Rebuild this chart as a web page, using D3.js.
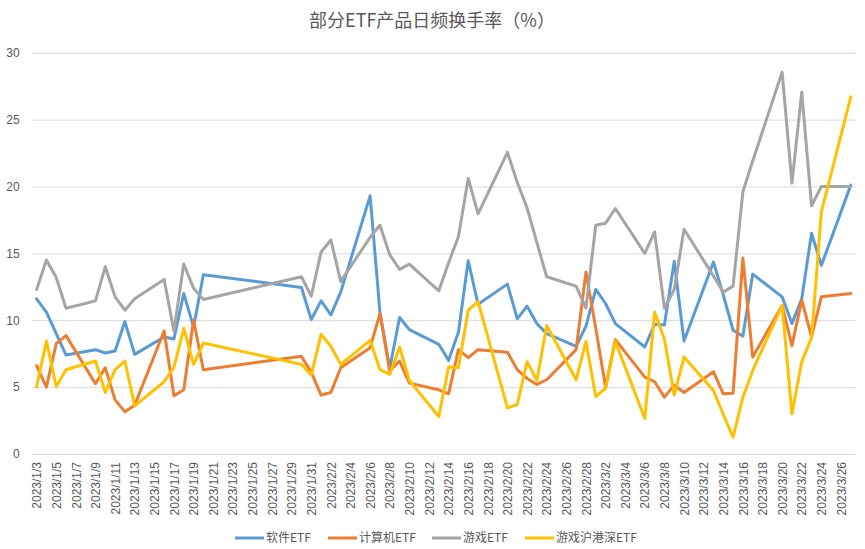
<!DOCTYPE html>
<html>
<head>
<meta charset="utf-8">
<script src="https://cdn.jsdelivr.net/npm/d3@7"></script>
<style>
  html, body { margin: 0; padding: 0; background: #fff; }
  svg { display: block; }
</style>
</head>
<body>
<div id="chart"></div>
<script>
const title = "部分ETF产品日频换手率（%）";

const dates = [
  "2023-01-03","2023-01-04","2023-01-05","2023-01-06","2023-01-09","2023-01-10","2023-01-11","2023-01-12","2023-01-13",
  "2023-01-16","2023-01-17","2023-01-18","2023-01-19","2023-01-20","2023-01-30","2023-01-31","2023-02-01","2023-02-02",
  "2023-02-03","2023-02-06","2023-02-07","2023-02-08","2023-02-09","2023-02-10","2023-02-13","2023-02-14","2023-02-15",
  "2023-02-16","2023-02-17","2023-02-20","2023-02-21","2023-02-22","2023-02-23","2023-02-24","2023-02-27","2023-02-28",
  "2023-03-01","2023-03-02","2023-03-03","2023-03-06","2023-03-07","2023-03-08","2023-03-09","2023-03-10","2023-03-13",
  "2023-03-14","2023-03-15","2023-03-16","2023-03-17","2023-03-20","2023-03-21","2023-03-22","2023-03-23","2023-03-24",
  "2023-03-27"
];

const seriesNames = ["软件ETF", "计算机ETF", "游戏ETF", "游戏沪港深ETF"];

const software = [
  11.6,10.6,9.0,7.4,7.8,7.55,7.7,9.9,7.45,
  8.75,8.6,12.0,9.5,13.4,12.45,10.05,11.45,10.4,
  12.1,19.3,10.6,6.4,10.2,9.3,8.2,7.0,9.1,
  14.45,11.2,12.7,10.1,11.05,9.75,9.0,8.05,9.55,
  12.3,11.25,9.75,8.0,9.7,9.65,14.4,8.45,14.35,
  11.9,9.25,8.8,13.45,11.75,9.75,11.6,16.5,14.1,
  20.1
];

const computer = [
  6.6,5.0,8.25,8.85,5.25,6.45,4.05,3.15,3.65,
  9.2,4.35,4.8,10.0,6.3,7.3,6.1,4.4,4.6,
  6.45,7.95,10.5,6.2,6.95,5.3,4.8,4.5,7.8,
  7.2,7.8,7.6,6.3,5.65,5.2,5.55,7.8,13.6,
  9.4,5.0,8.55,5.75,5.4,4.25,5.15,4.6,6.15,
  4.5,4.55,14.65,7.25,11.1,8.1,11.5,8.75,11.75,
  12.0
];

const game = [
  12.3,14.5,13.2,10.9,11.45,14.0,11.75,10.75,11.6,
  13.05,9.2,14.2,12.4,11.55,13.25,11.8,15.1,16.0,
  12.9,16.2,17.1,14.9,13.8,14.2,12.2,14.3,16.25,
  20.6,17.95,22.55,20.3,18.4,15.8,13.25,12.55,10.9,
  17.1,17.25,18.35,15.0,16.6,10.9,12.3,16.8,13.3,
  12.1,12.55,19.6,21.9,28.55,20.25,27.05,18.55,20.0,
  20.0
];

const gameHK = [
  5.05,8.45,5.05,6.3,6.95,4.6,6.3,6.95,3.6,
  5.4,6.5,9.4,6.7,8.3,6.7,5.9,8.95,8.05,
  6.7,8.5,6.3,5.95,8.0,5.5,2.8,6.5,6.45,
  10.75,11.4,3.45,3.7,6.9,5.5,9.6,5.55,8.4,
  4.3,4.9,8.4,2.65,10.6,8.6,4.4,7.25,4.75,
  2.95,1.25,4.25,6.25,11.1,3.0,6.9,8.7,18.1,
  26.7
];

const yTicks = [0, 5, 10, 15, 20, 25, 30];

const xTickLabels = [
  "2023/1/3","2023/1/5","2023/1/7","2023/1/9","2023/1/11","2023/1/13","2023/1/15","2023/1/17","2023/1/19",
  "2023/1/21","2023/1/23","2023/1/25","2023/1/27","2023/1/29","2023/1/31","2023/2/2","2023/2/4","2023/2/6",
  "2023/2/8","2023/2/10","2023/2/12","2023/2/14","2023/2/16","2023/2/18","2023/2/20","2023/2/22","2023/2/24",
  "2023/2/26","2023/2/28","2023/3/2","2023/3/4","2023/3/6","2023/3/8","2023/3/10","2023/3/12","2023/3/14",
  "2023/3/16","2023/3/18","2023/3/20","2023/3/22","2023/3/24","2023/3/26"
];

const colors = ["#5B9BD5", "#ED7D31", "#A5A5A5", "#FFC000"];

// ---- layout ----
const W = 865, H = 549;
const plot = { left: 31.7, right: 855.7, top: 52.7, bottom: 454 };

const parseISO = d3.utcParse("%Y-%m-%d");
const parseSlash = d3.utcParse("%Y/%m/%d");
const dayMs = 86400000;
const firstDay = parseISO(dates[0]);
const lastDay = parseISO(dates[dates.length - 1]);

const x = d3.scaleUtc()
  .domain([new Date(+firstDay - dayMs / 2), new Date(+lastDay + dayMs / 2)])
  .range([plot.left, plot.right]);
const y = d3.scaleLinear().domain([0, 30]).range([plot.bottom, plot.top]);

const svg = d3.select("#chart").append("svg")
  .attr("width", W).attr("height", H)
  .attr("viewBox", `0 0 ${W} ${H}`);

const textColor = "#595959";
const baseFont = "'Liberation Sans', 'Noto Sans CJK SC', sans-serif";
const cjkFont = "'Noto Sans CJK SC', 'Liberation Sans', sans-serif";

// title
svg.append("text")
  .attr("x", 432).attr("y", 27)
  .attr("text-anchor", "middle")
  .attr("font-family", cjkFont)
  .attr("font-size", 18)
  .attr("fill", textColor)
  .text(title);

// y axis (gridlines + labels)
const yAxis = d3.axisLeft(y)
  .tickValues(yTicks)
  .tickSize(-(plot.right - plot.left))
  .tickPadding(12)
  .tickFormat(d3.format("d"));

const gy = svg.append("g")
  .attr("transform", `translate(${plot.left},0)`)
  .call(yAxis);
gy.select(".domain").remove();
gy.selectAll(".tick line").attr("stroke", "#d9d9d9").attr("stroke-width", 1);
gy.selectAll(".tick text")
  .attr("fill", textColor)
  .attr("font-family", baseFont)
  .attr("font-size", 12);

// x axis labels
const xTickDates = xTickLabels.map(s => parseSlash(s));
const xAxis = d3.axisBottom(x)
  .tickValues(xTickDates)
  .tickSize(0)
  .tickPadding(0)
  .tickFormat((d, i) => xTickLabels[i]);

const gx = svg.append("g")
  .attr("transform", `translate(0,${plot.bottom})`)
  .call(xAxis);
gx.select(".domain").remove();
gx.selectAll(".tick text")
  .attr("fill", textColor)
  .attr("font-family", baseFont)
  .attr("font-size", 12)
  .attr("text-anchor", "end")
  .attr("transform", "rotate(-90)")
  .attr("x", -8)
  .attr("y", 0)
  .attr("dy", "0.35em");

// lines
const allSeries = [software, computer, game, gameHK];
const parsedDates = dates.map(parseISO);
const line = d3.line()
  .x((d, i) => x(parsedDates[i]))
  .y(d => y(d));

svg.append("g").selectAll("path")
  .data(allSeries)
  .join("path")
  .attr("fill", "none")
  .attr("stroke", (d, i) => colors[i])
  .attr("stroke-width", 3)
  .attr("stroke-linejoin", "round")
  .attr("stroke-linecap", "round")
  .attr("d", line);

// legend
const legendItems = [
  { x: 235, name: seriesNames[0], color: colors[0] },
  { x: 328, name: seriesNames[1], color: colors[1] },
  { x: 432, name: seriesNames[2], color: colors[2] },
  { x: 525, name: seriesNames[3], color: colors[3] }
];
const lg = svg.append("g");
const ly = 538;
legendItems.forEach(it => {
  lg.append("line")
    .attr("x1", it.x).attr("x2", it.x + 29)
    .attr("y1", ly).attr("y2", ly)
    .attr("stroke", it.color).attr("stroke-width", 3);
  lg.append("text")
    .attr("x", it.x + 31).attr("y", ly)
    .attr("dy", "0.35em")
    .attr("font-family", cjkFont)
    .attr("font-size", 12)
    .attr("fill", textColor)
    .text(it.name);
});
</script>
</body>
</html>
